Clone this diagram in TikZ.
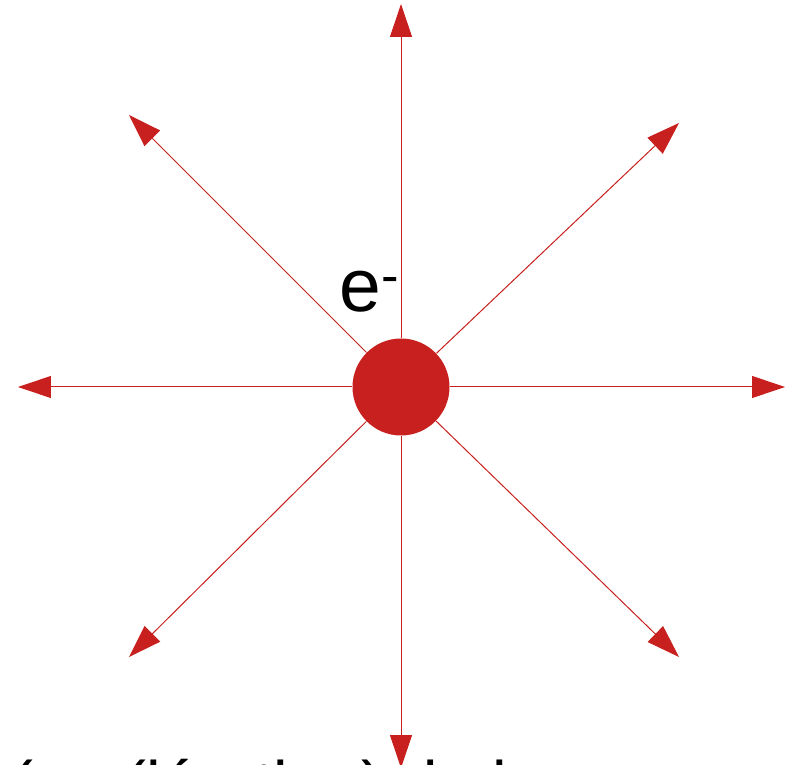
\documentclass[tikz,border=0pt]{standalone}
\usepackage{fontspec}
\setmainfont{Liberation Sans}
\usepackage{xcolor}
\usetikzlibrary{arrows.meta}
\definecolor{chargered}{RGB}{200,32,30}

\begin{document}
\begin{tikzpicture}[x=0.5pt, y=0.5pt,
  charge/.style={circle, fill=chargered, minimum size=48.5pt, inner sep=0pt},
  arr/.style={draw=chargered, line width=0.5pt, -{Triangle[length=16.5pt, width=11pt]}, color=chargered},
  lbl/.style={inner sep=0pt, anchor=base west}]
\useasboundingbox (-401,-377) rectangle (394,387);
\coordinate (n) at (0,383); \coordinate (s) at (0,-381);
\coordinate (e) at (384,0); \coordinate (w) at (-383,0);
\coordinate (nw) at (-272,272); \coordinate (ne) at (278,264);
\coordinate (sw) at (-272,-270); \coordinate (se) at (278,-270);
\node[charge] (q) at (0,0) {};
\draw[arr] (q) -- (n); \draw[arr] (q) -- (s); \draw[arr] (q) -- (e); \draw[arr] (q) -- (w);
\draw[arr] (q) -- (nw); \draw[arr] (q) -- (ne); \draw[arr] (q) -- (sw); \draw[arr] (q) -- (se);
\node[lbl, font=\fontsize{37.5}{45}\selectfont] (elabel) at (-62,75) {e\textsuperscript{-}};
\node[lbl, font=\fontsize{32.8}{40}\selectfont] (caption) at (-390,-420) {(ou (lération) de la};
\end{tikzpicture}
\end{document}
